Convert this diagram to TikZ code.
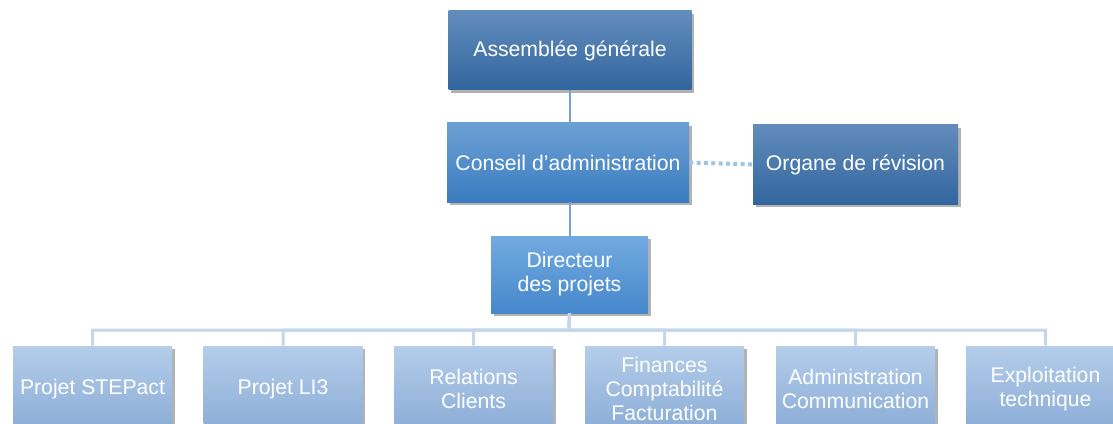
\documentclass[tikz,border=0pt]{standalone}
\usepackage{fontspec}
\setmainfont{Liberation Sans}
\usetikzlibrary{shadows}
\definecolor{darktop}{RGB}{98,140,188}
\definecolor{darkbot}{RGB}{50,102,158}
\definecolor{midtop}{RGB}{108,160,212}
\definecolor{midbot}{RGB}{58,124,192}
\definecolor{dirtop}{RGB}{114,170,224}
\definecolor{dirbot}{RGB}{70,136,204}
\definecolor{lowtop}{RGB}{180,205,234}
\definecolor{lowbot}{RGB}{138,172,214}
\definecolor{linkcol}{RGB}{122,160,206}
\definecolor{buscol}{RGB}{197,214,236}
\definecolor{dotcol}{RGB}{160,196,232}
\begin{document}
\begin{tikzpicture}[x=0.75pt,y=0.75pt,yscale=-1,
	every node/.style={text=white,font=\fontsize{15.9}{18}\selectfont,align=center,inner sep=0pt,
		drop shadow={shadow xshift=2pt,shadow yshift=-2.5pt,opacity=0.3,fill=black}},
	boxdark/.style={top color=darktop,bottom color=darkbot,minimum height=59.25pt},
	boxmid/.style={top color=midtop,bottom color=midbot,minimum height=59.25pt},
	boxdir/.style={top color=dirtop,bottom color=dirbot,minimum width=117.75pt,minimum height=57.75pt},
	boxlow/.style={top color=lowtop,bottom color=lowbot,minimum width=119.25pt,minimum height=64.5pt},
	link/.style={draw=linkcol,line width=1.5pt},
	busline/.style={draw=buscol,line width=2.25pt},
	dotline/.style={draw=dotcol,line width=3pt,dash pattern=on 3pt off 2.5pt}]
		\useasboundingbox (0,0) rectangle (1113,424);
		
		\coordinate (bus) at (569,330);
		
		\node[boxdark,minimum width=182.25pt] (ag) at (570,50.5) {Assemblée générale};
		\node[boxmid,minimum width=181.5pt] (ca) at (568,162.5) {Conseil d’administration};
		\node[boxdark,minimum width=153.75pt] (or) at (855.5,164.5) {Organe de révision};
		\node[boxdir] (dp) at (569.5,274.5) {Directeur\\des projets};
		
		\node[boxlow] (b1) at (92.5,389) {Projet STEPact};
		\node[boxlow] (b2) at (283,389) {Projet LI3};
		\node[boxlow] (b3) at (473.5,389) {Relations\\Clients};
		\node[boxlow] (b4) at (664.5,389) {Finances\\Comptabilité\\Facturation};
		\node[boxlow] (b5) at (855.5,389) {Administration\\Communication};
		\node[boxlow] (b6) at (1045.5,389) {Exploitation\\technique};
		
		\draw[link] (ag.south) -- (ca.north-|ag.south);
		\draw[link] (ca.south-|dp.north) -- (dp.north);
		\draw[dotline] (ca.east) -- (or.west);
		\foreach \i in {1,...,6}
			\draw[busline] (dp.south) -- (bus) -| (b\i.north);
		\end{tikzpicture}
\end{document}
